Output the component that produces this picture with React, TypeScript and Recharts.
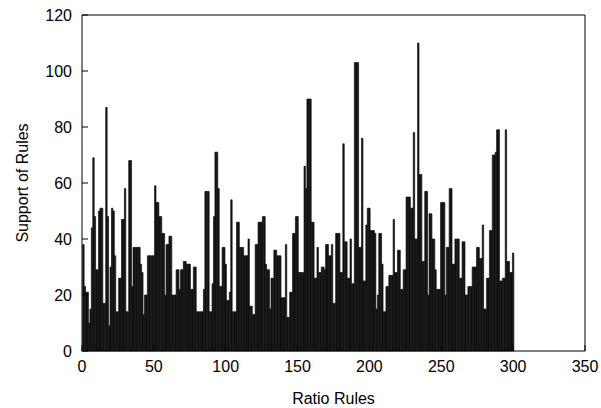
import React from 'react';
import { BarChart, Bar, XAxis, YAxis, Label } from 'recharts';

const supportValues: number[] = [
  38, 23, 21, 21, 10, 15, 44, 69, 48, 29,
  29, 50, 51, 51, 17, 17, 87, 48, 9, 30,
  51, 50, 34, 14, 14, 26, 26, 47, 47, 58,
  14, 14, 68, 68, 23, 37, 37, 37, 37, 37,
  31, 28, 13, 20, 20, 34, 34, 34, 34, 34,
  59, 53, 53, 48, 48, 42, 42, 20, 38, 38,
  41, 41, 20, 20, 20, 29, 29, 22, 29, 29,
  32, 32, 31, 31, 31, 22, 22, 30, 30, 14,
  14, 14, 14, 14, 22, 57, 57, 57, 14, 14,
  24, 48, 71, 71, 58, 23, 23, 37, 37, 31,
  18, 18, 21, 54, 14, 14, 14, 46, 46, 37,
  37, 37, 34, 34, 34, 40, 16, 16, 13, 13,
  38, 38, 46, 46, 46, 48, 48, 31, 29, 29,
  15, 26, 26, 36, 36, 34, 34, 34, 19, 19,
  19, 38, 12, 12, 21, 21, 42, 42, 48, 48,
  28, 28, 28, 28, 66, 58, 90, 90, 90, 46,
  46, 26, 26, 37, 28, 28, 30, 30, 29, 38,
  38, 34, 34, 38, 17, 17, 42, 42, 42, 28,
  28, 74, 39, 39, 26, 26, 40, 24, 24, 103,
  103, 103, 37, 37, 76, 25, 25, 45, 51, 51,
  43, 43, 43, 42, 15, 20, 42, 42, 31, 14,
  14, 23, 23, 27, 27, 27, 47, 28, 28, 36,
  36, 22, 22, 29, 29, 55, 55, 55, 51, 51,
  78, 40, 40, 110, 63, 63, 32, 32, 57, 57,
  20, 49, 49, 40, 40, 29, 22, 22, 22, 53,
  53, 53, 20, 37, 37, 58, 58, 31, 31, 40,
  40, 40, 26, 26, 39, 39, 20, 20, 23, 23,
  23, 30, 30, 30, 37, 37, 33, 33, 45, 15,
  15, 26, 26, 43, 43, 70, 70, 71, 79, 79,
  25, 25, 26, 26, 79, 32, 32, 28, 28, 35,
];

const xTicks = [0, 50, 100, 150, 200, 250, 300, 350];
const yTicks = [0, 20, 40, 60, 80, 100, 120];

const data = supportValues.map((v, i) => ({ rule: i + 1, support: v }));

const FONT = '"Liberation Sans", Arial, sans-serif';
const tickStyle = { fontSize: 16, fill: '#000', fontFamily: FONT };

export default function App() {
  return (
    <div style={{ position: 'absolute', left: 0, top: 0, width: 601, height: 408, background: '#fff' }}>
      <BarChart
        width={601}
        height={408}
        data={data}
        margin={{ top: 14, right: 15, bottom: 0, left: 0 }}
        barCategoryGap={0}
        barGap={0}
      >
        <XAxis
          xAxisId="bottom"
          dataKey="rule"
          type="number"
          domain={[0, 350]}
          ticks={xTicks}
          allowDataOverflow
          height={57}
          orientation="bottom"
          axisLine={{ stroke: '#000', strokeWidth: 1 }}
          tickLine={{ stroke: '#000' }}
          tickSize={-6}
          tickMargin={16}
          tick={tickStyle}
          interval={0}
        >
          <Label
            content={(p: any) => {
              const vb = p.viewBox || {};
              return (
                <text
                  x={vb.x + vb.width / 2}
                  y={vb.y + 47}
                  textAnchor="middle"
                  dominantBaseline="central"
                  style={{ fontSize: 16, fontFamily: FONT, fill: '#000' }}
                >
                  Ratio Rules
                </text>
              );
            }}
          />
        </XAxis>
        <XAxis
          xAxisId="top"
          dataKey="rule"
          type="number"
          domain={[0, 350]}
          ticks={xTicks}
          orientation="top"
          height={1}
          axisLine={{ stroke: '#000', strokeWidth: 1 }}
          tickLine={{ stroke: '#000' }}
          tickSize={-6}
          tick={false}
          interval={0}
        />
        <YAxis
          yAxisId="left"
          type="number"
          domain={[0, 120]}
          ticks={yTicks}
          width={82}
          orientation="left"
          axisLine={{ stroke: '#000', strokeWidth: 1 }}
          tickLine={{ stroke: '#000' }}
          tickSize={-6}
          tickMargin={16}
          tick={tickStyle}
          interval={0}
        >
          <Label
            content={(p: any) => {
              const vb = p.viewBox || {};
              const cx = vb.x + 22;
              const cy = vb.y + vb.height / 2;
              return (
                <text
                  x={cx}
                  y={cy}
                  textAnchor="middle"
                  dominantBaseline="central"
                  transform={`rotate(-90, ${cx}, ${cy})`}
                  style={{ fontSize: 16, fontFamily: FONT, fill: '#000' }}
                >
                  Support of Rules
                </text>
              );
            }}
          />
        </YAxis>
        <YAxis
          yAxisId="right"
          type="number"
          domain={[0, 120]}
          ticks={yTicks}
          width={1}
          orientation="right"
          axisLine={{ stroke: '#000', strokeWidth: 1 }}
          tickLine={{ stroke: '#000' }}
          tickSize={-6}
          tick={false}
          interval={0}
        />
        <Bar
          xAxisId="bottom"
          yAxisId="left"
          dataKey="support"
          fill="#111"
          stroke="#111"
          strokeWidth={0.7}
          barSize={1.4}
          isAnimationActive={false}
        />
      </BarChart>
    </div>
  );
}
